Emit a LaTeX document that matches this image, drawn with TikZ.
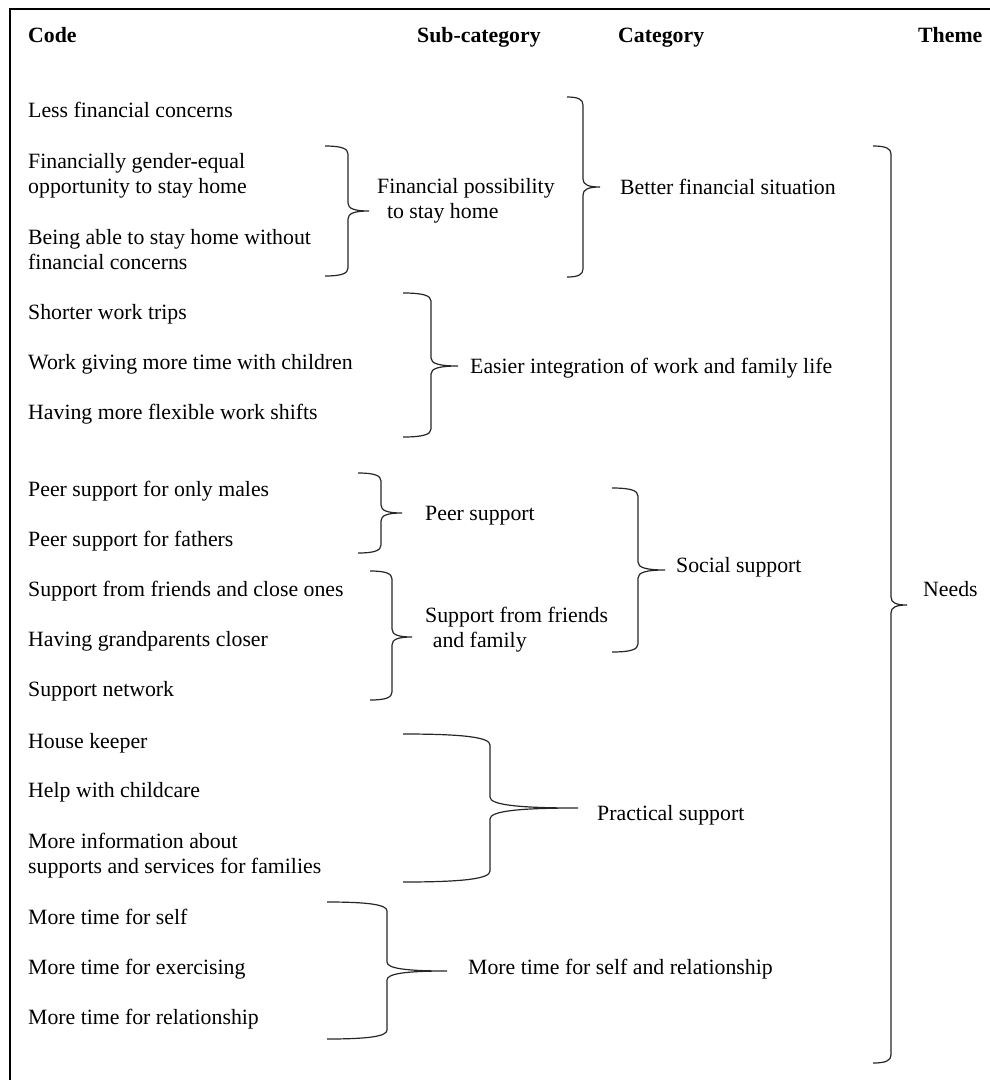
\documentclass[tikz,border=0pt]{standalone}
\usepackage{fontspec}
\setmainfont{Liberation Serif}
\newcommand{\CBrace}[7]{%
  \draw[bracestyle] (#1,#4) .. controls ({#1+0.7*(#2-#1)},#4) and (#2,{#4+0.3*#7}) .. (#2,{#4+#7})
    -- (#2,{#6-#7}) .. controls (#2,{#6-0.3*#7}) and ({#2+0.3*(#3-#2)},#6) .. (#3,#6)
    .. controls ({#2+0.3*(#3-#2)},#6) and (#2,{#6+0.3*#7}) .. (#2,{#6+#7})
    -- (#2,{#5-#7}) .. controls (#2,{#5-0.3*#7}) and ({#1+0.7*(#2-#1)},#5) .. (#1,#5);}
\begin{document}
\begin{tikzpicture}[x=1pt,y=-1pt,
  txt/.style={anchor=base west, inner sep=0pt, align=left, font=\fontsize{21.8}{25}\selectfont},
  headtxt/.style={txt, font=\fontsize{21.8}{25}\selectfont\bfseries},
  bracestyle/.style={line width=1.2pt, draw=black!85},
  framestyle/.style={line width=2.6pt, draw=black}]
\useasboundingbox (0,0) rectangle (990,1080);
\draw[framestyle] (10,1080) -- (10,9) -- (990,9);
% headers
\node[headtxt] (hcode) at (28,42) {Code};
\node[headtxt] (hsub) at (417,42) {Sub-category};
\node[headtxt] (hcat) at (618,42) {Category};
\node[headtxt] (htheme) at (918,42) {Theme};
% codes (multi-line nodes are placed at the baseline of their last line)
\node[txt] (c1) at (28,117) {Less financial concerns};
\node[txt] (c2) at (28,193) {Financially gender-equal\\opportunity to stay home};
\node[txt] (c3) at (28,269) {Being able to stay home without\\financial concerns};
\node[txt] (c4) at (28,319) {Shorter work trips};
\node[txt] (c5) at (28,369) {Work giving more time with children};
\node[txt] (c6) at (28,419) {Having more flexible work shifts};
\node[txt] (c7) at (28,496) {Peer support for only males};
\node[txt] (c8) at (28,546) {Peer support for fathers};
\node[txt] (c9) at (28,596) {Support from friends and close ones};
\node[txt] (c10) at (28,646) {Having grandparents closer};
\node[txt] (c11) at (28,696) {Support network};
\node[txt] (c12) at (28,748) {House keeper};
\node[txt] (c13) at (28,797) {Help with childcare};
\node[txt] (c14) at (28,873) {More information about\\supports and services for families};
\node[txt] (c15) at (28,924) {More time for self};
\node[txt] (c16) at (28,974) {More time for exercising};
\node[txt] (c17) at (28,1024) {More time for relationship};
% sub-categories
\node[txt] (s1) at (377,218) {Financial possibility\\\hspace*{0.45em}to stay home};
\node[txt] (s2) at (425,520) {Peer support};
\node[txt] (s3) at (425,647) {Support from friends\\\hspace*{0.35em}and family};
% categories
\node[txt] (k1) at (620,194) {Better financial situation};
\node[txt] (k2) at (470,373) {Easier integration of work and family life};
\node[txt] (k3) at (676,572) {Social support};
\node[txt] (k4) at (597,820) {Practical support};
\node[txt] (k5) at (468,974) {More time for self and relationship};
% theme
\node[txt] (t1) at (923,596) {Needs};
% braces: ends x, vertical x, tip x, top y, bottom y, mid y, curl
\CBrace{325}{348}{369}{146}{276}{211}{8}
\CBrace{567}{583}{600}{97}{277}{187}{8}
\CBrace{873}{891}{907}{146}{1063}{605}{8}
\CBrace{403}{431}{458}{293}{437}{366}{8}
\CBrace{358}{381}{402}{473}{553}{513}{8}
\CBrace{370}{392}{412}{571}{700}{637}{8}
\CBrace{612}{638}{665}{488}{652}{570}{8}
\CBrace{403}{490}{578}{734}{882}{808}{11}
\CBrace{327}{387}{447}{902}{1039}{971}{9}
\end{tikzpicture}
\end{document}
